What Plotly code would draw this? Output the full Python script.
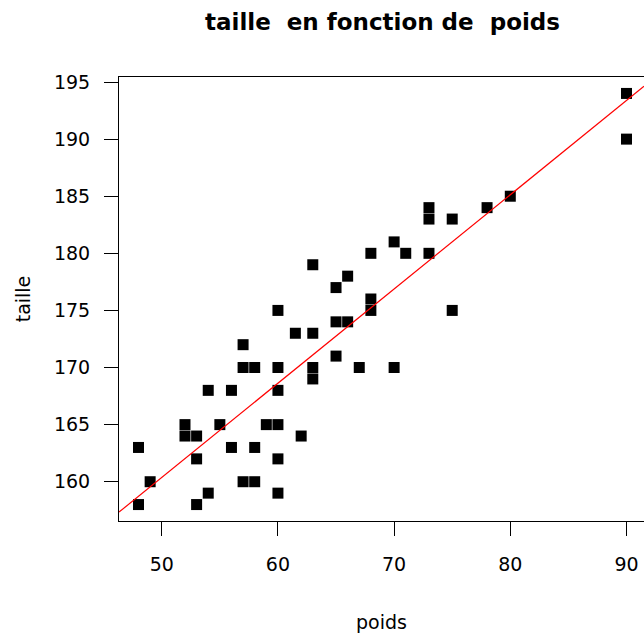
import numpy as np
import plotly.graph_objects as go

# poids (kg) et taille (cm) des individus
poids = [48, 48, 49, 52, 52, 53, 53, 53, 54, 54, 55, 56, 56, 57, 57, 57,
         58, 58, 58, 59, 60, 60, 60, 60, 60, 60, 61.5, 62, 63, 63, 63, 63,
         65, 65, 65, 66, 66, 67, 68, 68, 68, 70, 70, 71, 73, 73, 73, 75, 75,
         78, 80, 90, 90]
taille = [163, 158, 160, 165, 164, 164, 162, 158, 168, 159, 165, 168, 163, 172, 170, 160,
          170, 163, 160, 165, 175, 170, 168, 165, 162, 159, 173, 164, 179, 173, 170, 169,
          177, 174, 171, 178, 174, 170, 180, 176, 175, 181, 170, 180, 184, 183, 180, 183, 175,
          184, 185, 194, 190]

x_ticks = [50, 60, 70, 80, 90]
y_ticks = [160, 165, 170, 175, 180, 185, 190, 195]

W, H = 644, 636
L, T, B = 119, 77, 115
full_plot_w = 527  # box width; its right edge falls just past the page

def r_range(v):
    lo, hi = min(v), max(v)
    ext = 0.04 * (hi - lo)
    return lo - ext, hi + ext

x_lo, x_hi = r_range(poids)
y_lo, y_hi = r_range(taille)
# visible part of the x range (plot area cut at the page edge)
x_hi_vis = x_lo + (x_hi - x_lo) * (W - L) / full_plot_w

# droite des moindres carrés
slope, intercept = np.polyfit(poids, taille, 1)
line_x = [x_lo, x_hi_vis]
line_y = [intercept + slope * v for v in line_x]

font_family = "DejaVu Sans"

fig = go.Figure()
fig.add_trace(go.Scatter(
    x=poids, y=taille, mode="markers",
    marker=dict(symbol="square", size=11, color="black", line=dict(width=0)),
    showlegend=False, hoverinfo="skip",
))
fig.add_trace(go.Scatter(
    x=line_x, y=line_y, mode="lines",
    line=dict(color="red", width=1.2),
    showlegend=False, hoverinfo="skip",
))

fig.update_layout(
    width=W, height=H,
    margin=dict(l=L, r=0, t=T, b=B),
    paper_bgcolor="white", plot_bgcolor="white",
    font=dict(family=font_family, color="black", size=19),
    title=dict(
        text="<b>taille  en fonction de  poids</b>",
        font=dict(family=font_family, size=23, color="black"),
        x=(L + L + full_plot_w) / 2 / W, xanchor="center", xref="container",
        y=1 - 14 / H, yanchor="top", yref="container",
    ),
    xaxis=dict(
        range=[x_lo, x_hi_vis], tickvals=x_ticks, ticktext=[str(v) for v in x_ticks],
        showgrid=False, zeroline=False,
        showline=True, linecolor="black", linewidth=1, mirror=True,
        ticks="outside", ticklen=14, tickwidth=1, tickcolor="black",
        ticklabelstandoff=12,
        tickfont=dict(size=19),
        title=dict(text="poids", font=dict(size=19), standoff=41),
    ),
    yaxis=dict(
        range=[y_lo, y_hi], tickvals=y_ticks, ticktext=[str(v) for v in y_ticks],
        showgrid=False, zeroline=False,
        showline=True, linecolor="black", linewidth=1, mirror=False,
        ticks="outside", ticklen=14, tickwidth=1, tickcolor="black",
        ticklabelstandoff=10,
        tickfont=dict(size=19),
        title=dict(text="taille", font=dict(size=19), standoff=18),
    ),
)

fig.write_html("out.html")
